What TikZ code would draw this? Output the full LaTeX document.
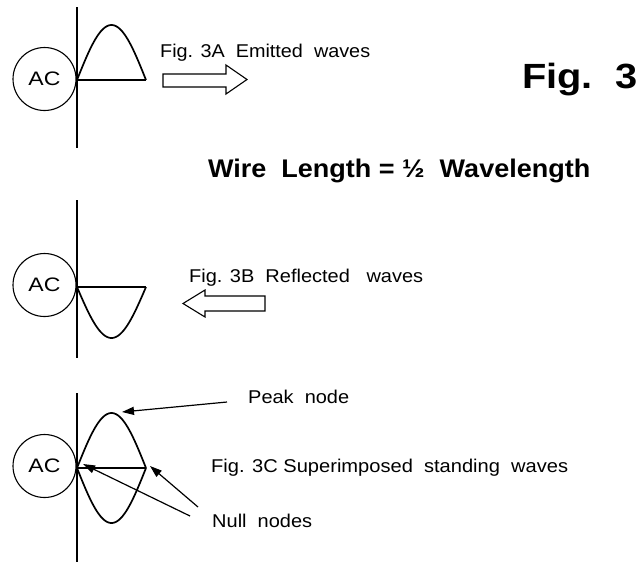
\documentclass[tikz,border=0pt]{standalone}
\usepackage{fontspec}
\setmainfont{Liberation Sans}
\usetikzlibrary{arrows.meta}
\newcommand{\fitw}[2]{\resizebox{#1}{\height}{#2}}
\begin{document}
\begin{tikzpicture}[x=1pt,y=-1pt,
  lbl/.style={inner sep=0pt,anchor=base west,font=\fontsize{18.5}{22}\selectfont},
  big/.style={inner sep=0pt,anchor=base west},
  acnode/.style={circle,draw,line width=1.1pt,minimum size=63pt,inner sep=0pt,font=\fontsize{19.5}{22}\selectfont},
  pole/.style={line width=1.8pt},
  wire/.style={line width=2.4pt},
  wave/.style={line width=1.7pt},
  hollow/.style={line width=1.1pt,line join=miter},
  ptr/.style={line width=1.2pt,-{Triangle[length=12pt,width=8pt]}}]
\useasboundingbox[fill=white] (0,0) rectangle (639,563);

% ---------- Fig. 3A ----------
\draw[pole] (77,7) -- (77,148);
\node[acnode] (ac1) at (44.5,79) {\fitw{32pt}{AC}};
\coordinate (w1a) at (77,80);
\coordinate (w1b) at (146,80);
\draw[wire] (w1a) -- (w1b);
\draw[wave] plot[domain=0:180,samples=50,smooth] ({77+\x/180*69},{80-55*sin(\x)});
\draw[hollow] (163,74) -- (226,74) -- (226,65) -- (247,79.5) -- (226,94) -- (226,87) -- (163,87) -- cycle;
\node[lbl] (t3a) at (160,57) {\fitw{210pt}{Fig. 3A\ \ Emitted\ \ waves}};
\node[big,font=\bfseries\fontsize{35}{40}\selectfont] (fig) at (522,88) {\fitw{115pt}{Fig.\ \ 3}};
\node[big,font=\bfseries\fontsize{25.5}{30}\selectfont] (wire) at (208,177) {\fitw{382pt}{Wire\ \ Length = \textonehalf\ \ Wavelength}};

% ---------- Fig. 3B ----------
\draw[pole] (77,200) -- (77,358);
\node[acnode] (ac2) at (44.5,285) {\fitw{32pt}{AC}};
\coordinate (w2a) at (77,287);
\coordinate (w2b) at (146,287);
\draw[wire] (w2a) -- (w2b);
\draw[wave] plot[domain=0:180,samples=50,smooth] ({77+\x/180*69},{287+51*sin(\x)});
\draw[hollow] (265,296) -- (205,296) -- (205,290) -- (183,303.5) -- (205,317) -- (205,311) -- (265,311) -- cycle;
\node[lbl] (t3b) at (189,282) {\fitw{234pt}{Fig. 3B\ \ Reflected\ \ \ waves}};

% ---------- Fig. 3C ----------
\draw[pole] (77,393) -- (77,562);
\node[acnode] (ac3) at (44.5,466) {\fitw{32pt}{AC}};
\coordinate (w3a) at (77,468);
\coordinate (w3b) at (146,468);
\coordinate (pk) at (112,413);
\draw[wire] (w3a) -- (w3b);
\draw[wave] plot[domain=0:180,samples=50,smooth] ({77+\x/180*69},{468-55*sin(\x)});
\draw[wave] plot[domain=0:180,samples=50,smooth] ({77+\x/180*69},{468+55*sin(\x)});
\node[lbl] (peak) at (248,403) {\fitw{101pt}{Peak\ \ node}};
\node[lbl] (t3c) at (211,472) {\fitw{357pt}{Fig. 3C Superimposed\ \ standing\ \ waves}};
\node[lbl] (null) at (212,527) {\fitw{100pt}{Null\ \ nodes}};
\coordinate (pks) at (227,402);
\coordinate (n1s) at (198,507);
\coordinate (n2s) at (190,516);
\draw[ptr] (pks) -- ([xshift=10pt,yshift=1pt]pk);
\draw[ptr] (n1s) -- ([xshift=4pt,yshift=2pt]w3b);
\draw[ptr] (n2s) -- ([xshift=6pt,yshift=4pt]w3a);
\end{tikzpicture}
\end{document}
